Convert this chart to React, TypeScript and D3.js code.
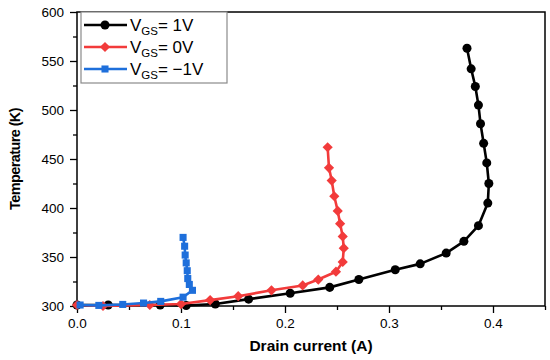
import * as d3 from 'd3';
import React, { useEffect, useRef } from 'react';

// V_GS = 1V (black, circles)
const current1V = [0.0, 0.03, 0.08, 0.105, 0.133, 0.165, 0.205, 0.243, 0.271, 0.306, 0.33, 0.355, 0.372, 0.386, 0.395, 0.396, 0.394, 0.391, 0.388, 0.386, 0.383, 0.379, 0.375];
const temp1V = [301, 301, 301, 300.5, 302, 307, 313, 319, 327, 337, 343, 354, 366, 382, 405, 425, 446, 466, 486, 505, 524, 542, 563];

// V_GS = 0V (red, diamonds)
const current0V = [0.0, 0.025, 0.07, 0.1, 0.128, 0.155, 0.187, 0.217, 0.232, 0.249, 0.2555, 0.2565, 0.2555, 0.253, 0.2507, 0.2474, 0.2449, 0.2423, 0.241];
const temp0V = [301, 300, 301, 302, 306, 310, 316, 321, 327, 335, 345, 359, 371, 384, 397, 412, 428, 441, 462];

// V_GS = -1V (blue, squares)
const currentM1V = [0.003, 0.021, 0.044, 0.064, 0.0805, 0.102, 0.111, 0.108, 0.1065, 0.106, 0.105, 0.104, 0.1035, 0.102];
const tempM1V = [301, 300.6, 301.6, 303, 304.7, 309, 316, 322, 328, 336, 344, 352, 361, 370];

const xTicks = [0.0, 0.1, 0.2, 0.3, 0.4];
const yTicks = [300, 350, 400, 450, 500, 550, 600];
const legendLabels = ['= 1V', '= 0V', '= \u22121V'];

const series = [
    { x: current1V, y: temp1V, color: '#000000', symbol: d3.symbolCircle, size: 64, rot: 0 },
    { x: current0V, y: temp0V, color: '#F23B3B', symbol: d3.symbolSquare, size: 52, rot: 45 },
    { x: currentM1V, y: tempM1V, color: '#1E6FDB', symbol: d3.symbolSquare, size: 50, rot: 0 },
];

function App() {
    const ref = useRef(null);

    useEffect(() => {
        const svg = d3.select(ref.current);
        svg.selectAll('*').remove();
        const font = '"Liberation Sans", Arial, sans-serif';
        const left = 77, right = 545, top = 12, bottom = 306;

        const x = d3.scaleLinear().domain([0, 0.45]).range([left, right]);
        const y = d3.scaleLinear().domain([300, 600]).range([bottom, top]);

        // frame
        svg.append('rect')
            .attr('x', left).attr('y', top)
            .attr('width', right - left).attr('height', bottom - top)
            .attr('fill', 'none').attr('stroke', '#000').attr('stroke-width', 1.5);

        // minor ticks
        const xMinor = d3.axisBottom(x).tickValues([0.05, 0.15, 0.25, 0.35, 0.45]).tickSize(4).tickFormat(() => '');
        const yMinor = d3.axisLeft(y).tickValues([325, 375, 425, 475, 525, 575]).tickSize(4).tickFormat(() => '');
        svg.append('g').attr('transform', 'translate(0,' + bottom + ')').call(xMinor);
        svg.append('g').attr('transform', 'translate(' + left + ',0)').call(yMinor);

        // major axes
        const xg = svg.append('g').attr('transform', 'translate(0,' + bottom + ')')
            .call(d3.axisBottom(x).tickValues(xTicks).tickSize(7).tickPadding(5).tickFormat(d3.format('.1f')));
        const yg = svg.append('g').attr('transform', 'translate(' + left + ',0)')
            .call(d3.axisLeft(y).tickValues(yTicks).tickSize(7).tickPadding(6).tickFormat(d3.format('d')));

        svg.selectAll('.domain').remove();
        svg.selectAll('.tick line').attr('stroke', '#000').attr('stroke-width', 1.3);
        [xg, yg].forEach(g => g.selectAll('text')
            .attr('fill', '#000')
            .style('font-family', font)
            .style('font-size', '13.5px'));

        // axis titles
        svg.append('text')
            .attr('x', (left + right) / 2).attr('y', 351)
            .attr('text-anchor', 'middle')
            .style('font-family', font).style('font-size', '15.5px').style('font-weight', 'bold')
            .text('Drain current (A)');
        svg.append('text')
            .attr('transform', 'translate(20,' + ((top + bottom) / 2) + ') rotate(-90)')
            .attr('text-anchor', 'middle')
            .style('font-family', font).style('font-size', '14.5px').style('font-weight', 'bold')
            .style('letter-spacing', '-0.6px')
            .text('Temperature (K)');

        // series
        const line = d3.line().x(d => x(d[0])).y(d => y(d[1]));
        series.forEach(s => {
            const pts = s.x.map((v, i) => [v, s.y[i]]);
            svg.append('path')
                .datum(pts)
                .attr('fill', 'none')
                .attr('stroke', s.color)
                .attr('stroke-width', 2.6)
                .attr('stroke-linejoin', 'round')
                .attr('d', line);
            svg.append('g').selectAll('path')
                .data(pts)
                .join('path')
                .attr('transform', d => 'translate(' + x(d[0]) + ',' + y(d[1]) + ') rotate(' + s.rot + ')')
                .attr('fill', s.color)
                .attr('d', d3.symbol().type(s.symbol).size(s.size));
        });

        // legend
        const lg = svg.append('g');
        lg.append('rect')
            .attr('x', 81).attr('y', top).attr('width', 146).attr('height', 71)
            .attr('fill', '#fff').attr('stroke', '#8a8a8a').attr('stroke-width', 1.2);
        const rows = [25, 47, 69];
        series.forEach((s, i) => {
            lg.append('line')
                .attr('x1', 84).attr('x2', 127).attr('y1', rows[i]).attr('y2', rows[i])
                .attr('stroke', s.color).attr('stroke-width', 2.6);
            lg.append('path')
                .attr('transform', 'translate(105,' + rows[i] + ') rotate(' + s.rot + ')')
                .attr('fill', s.color)
                .attr('d', d3.symbol().type(s.symbol).size(s.size));
            const t = lg.append('text')
                .attr('x', 130).attr('y', rows[i] + 6)
                .style('font-family', font).style('font-size', '17px');
            t.append('tspan').text('V');
            t.append('tspan').attr('dy', 4).style('font-size', '11.5px').text('GS');
            t.append('tspan').attr('dy', -4).text(legendLabels[i]);
        });
    }, []);

    return (
        <svg ref={ref} width={550} height={360} style={{ display: 'block', position: 'absolute', left: 0, top: 0, background: '#fff' }}></svg>
    );
}

export default App;
